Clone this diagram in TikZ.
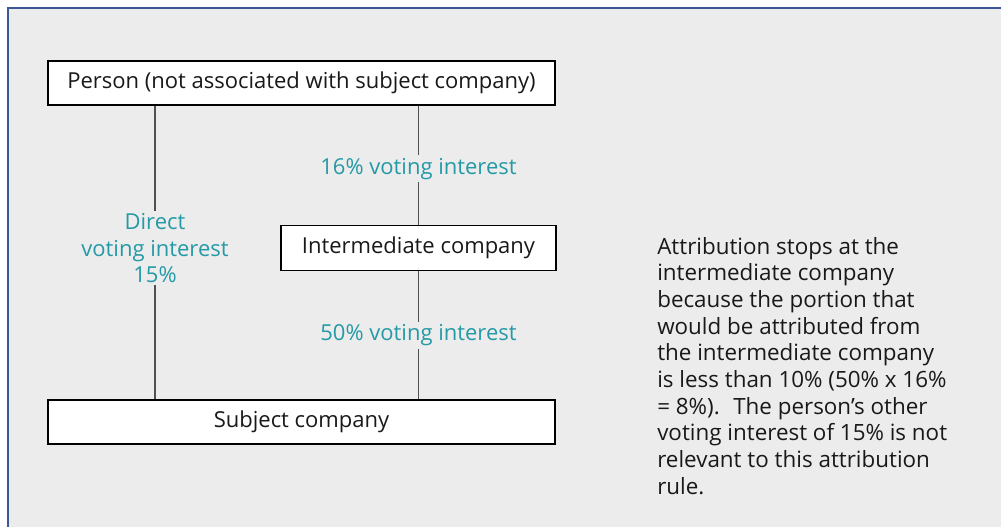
\documentclass[tikz,border=0pt]{standalone}
\usepackage{fontspec}
\setmainfont{Open Sans}
\definecolor{panel}{RGB}{236,236,236}
\definecolor{frame}{RGB}{58,88,150}
\definecolor{teal}{RGB}{36,154,166}
\definecolor{wire}{RGB}{80,80,80}
\begin{document}
\begin{tikzpicture}[x=0.75pt,y=-0.75pt,
    font=\fontsize{16.5}{19.8}\selectfont,
    box/.style={draw=black,fill=white,line width=1.1pt,inner sep=0pt,text=black!90},
    link/.style={draw=wire,line width=1.1pt},
    lab/.style={fill=panel,text=teal,align=center,inner sep=2pt}]
  \useasboundingbox (0,0) rectangle (1001,526);
  \begin{scope}
    \clip (0,0) rectangle (1001,526);
    \fill[white] (0,0) rectangle (1001,526);
    \draw[frame,fill=panel,line width=2.2pt] (8,8) rectangle (1020,545);
  \end{scope}
  \node[box,minimum width=507*0.75pt,minimum height=44*0.75pt] (person) at (301.5,83) {Person (not associated with subject company)};
  \node[box,minimum width=275*0.75pt,minimum height=45*0.75pt] (inter) at (418.5,248) {Intermediate company};
  \node[box,minimum width=507*0.75pt,minimum height=44*0.75pt] (subject) at (301.5,422) {Subject company};
  \coordinate (lx) at (155,0);
  \draw[link] (person.south -| lx) -- node[lab,pos=0.485] {Direct\\voting interest\\15\%} (subject.north -| lx);
  \draw[link] (person.south -| inter.north) -- node[lab,pos=0.53] {16\% voting interest} (inter.north);
  \draw[link] (inter.south) -- node[lab,pos=0.5] {50\% voting interest} (subject.north -| inter.south);
  \node[anchor=north west,align=left,inner sep=0pt,text=black!90,font=\fontsize{16.8}{20}\selectfont] (note) at (657,237) {Attribution stops at the\\intermediate company\\because the portion that\\would be attributed from\\the intermediate company\\is less than 10\% (50\% x 16\%\\= 8\%).~ The person’s other\\voting interest of 15\% is not\\relevant to this attribution\\rule.};
\end{tikzpicture}
\end{document}
